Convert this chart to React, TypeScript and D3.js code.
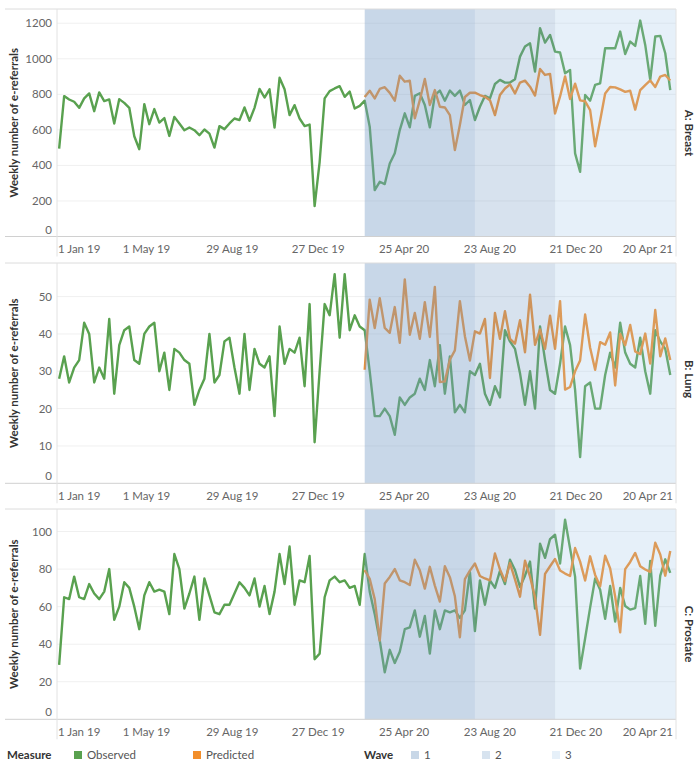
import React, { useEffect, useRef } from 'react';
import * as d3 from 'd3';

// ---- categories ----
const firstWeek = new Date(2018, 11, 30); // weekly series start (week beginning)
const predictedStartIndex = 61; // first week with a predicted value (1 Mar 2020)
const panelNames = ['A: Breast', 'B: Lung', 'C: Prostate'];
const measureNames = ['Observed', 'Predicted'];
const waveNames = ['1', '2', '3'];
const waveStarts = [new Date(2020, 2, 1), new Date(2020, 7, 2), new Date(2020, 10, 22)];
const waveEnd = new Date(2021, 4, 10);
const xTickDates = [
  new Date(2019, 0, 1), new Date(2019, 4, 1), new Date(2019, 7, 29), new Date(2019, 11, 27),
  new Date(2020, 3, 25), new Date(2020, 7, 23), new Date(2020, 11, 21), new Date(2021, 3, 20),
];
const xTickLabels = ['1 Jan 19', '1 May 19', '29 Aug 19', '27 Dec 19', '25 Apr 20', '23 Aug 20', '21 Dec 20', '20 Apr 21'];
const breastTicks = [0, 200, 400, 600, 800, 1000, 1200];
const lungTicks = [0, 10, 20, 30, 40, 50];
const prostateTicks = [0, 20, 40, 60, 80, 100];

// ---- series values ----
const breastObserved = [
  495, 790, 771, 758, 724, 777, 805, 705, 811, 762,
  771, 636, 773, 752, 724, 564, 491, 745, 632, 717,
  641, 666, 566, 673, 636, 598, 613, 598, 570, 602,
  579, 500, 621, 604, 636, 664, 655, 726, 651, 724,
  830, 782, 828, 613, 893, 828, 683, 739, 664, 621,
  630, 171, 419, 777, 818, 833, 846, 786, 815, 720,
  735, 764, 618, 261, 308, 295, 411, 468, 599, 693,
  614, 791, 806, 740, 614, 796, 821, 764, 821, 791,
  821, 740, 768, 655, 730, 791, 777, 858, 881, 866,
  866, 885, 1012, 1069, 1087, 928, 1172, 1091, 1134, 1040,
  1035, 918, 937, 468, 364, 796, 764, 853, 862, 1059,
  1059, 1059, 1153, 1027, 1097, 1072, 1215, 1078, 881, 1125,
  1129, 1031, 824,
];
const breastPredicted = [
  785, 820, 777, 830, 840, 808, 764, 905, 871, 877,
  665, 767, 886, 740, 824, 730, 726, 683, 486, 627,
  785, 809, 809, 796, 786, 767, 683, 796, 833, 856,
  805, 866, 877, 843, 793, 943, 909, 915, 692, 788,
  901, 774, 860, 766, 761, 711, 508, 653, 805, 841,
  839, 828, 814, 820, 714, 824, 852, 878, 841, 900,
  909, 878,
];
const lungObserved = [
  28, 34, 27, 31, 33, 43, 40, 27, 31, 28,
  44, 24, 37, 41, 42, 33, 32, 40, 42, 43,
  30, 35, 25, 36, 35, 33, 32, 21, 25, 28,
  40, 27, 29, 38, 39, 31, 24, 40, 25, 36,
  32, 31, 34, 18, 42, 32, 36, 35, 39, 26,
  48, 11, 30, 48, 45, 56, 39, 56, 41, 45,
  42, 41, 30, 18, 18, 20, 18, 13, 23, 21,
  23, 24, 28, 25, 33, 26, 37, 24, 34, 19,
  21, 19, 30, 29, 32, 24, 21, 26, 23, 41,
  38, 36, 29.5, 21, 30, 20, 42, 33, 25, 24,
  32, 42, 37, 25, 7, 26, 27, 20, 20, 29,
  35, 31, 43, 35, 32, 31, 39, 30, 24, 41,
  38, 36, 29,
];
const lungPredicted = [
  30.4, 49.2, 41.6, 49.6, 41.6, 40.3, 47.2, 37.6, 54.6, 39.8,
  45.6, 38.7, 48.5, 39.2, 52.6, 27.1, 27.3, 33.1, 35.6, 48.8,
  39.4, 32.9, 40.7, 40.1, 44, 28.2, 45.6, 38.7, 46.1, 38.7,
  37.4, 43.7, 35.1, 50.5, 37.1, 41.2, 36, 44.9, 36, 48.8,
  25.1, 25.8, 30, 32.9, 45.2, 36.3, 30.4, 37.8, 37.1, 40.4,
  26.2, 40, 37, 42.4, 35.3, 34.6, 40.1, 32.1, 46.4, 34,
  38.8, 33,
];
const prostateObserved = [
  29, 65, 64, 76, 65, 64, 72, 67, 64, 68,
  80, 53, 60, 73, 70, 60, 48, 66, 73, 68,
  69, 68, 56, 88, 80, 59, 67, 76, 53, 75,
  66, 57, 56, 61, 61, 67, 73, 70, 66, 75,
  60, 71, 56, 68, 88, 72, 92, 61, 74, 73,
  87, 32, 35, 65, 74, 76, 73, 74, 70, 71,
  61, 88, 68, 56, 42, 25, 37, 30, 36, 48,
  49, 58, 44, 55, 35, 58, 48, 58, 57, 58,
  54, 58, 78.5, 47, 74, 61, 74, 70, 79, 72,
  85, 79.5, 70.5, 76.5, 84, 59, 93.5, 86, 96, 98.3,
  83, 106.3, 91, 76, 27, 43, 59.5, 75, 69, 53.5,
  71, 52, 70, 60.3, 58.4, 59.2, 76.3, 50.8, 84.3, 49.8,
  76.5, 85.2, 78,
];
const prostatePredicted = [
  79.4, 74.8, 64, 41.9, 72.3, 75.8, 80, 74, 73, 71.5,
  85, 79.4, 69.6, 81.2, 71.2, 62.7, 81.5, 75.7, 65.5, 43.7,
  74.7, 79.2, 83, 76.3, 75, 74, 88.3, 79.8, 73.6, 83.2,
  74.5, 65.3, 84.5, 76, 65, 45, 77.4, 81.5, 85.4, 79.2,
  77.6, 76.3, 91.2, 84, 73.9, 86.8, 76.9, 70.8, 87.1, 80.3,
  65.4, 46.3, 80, 83.8, 88.6, 81.5, 79.8, 78.5, 94, 87.8,
  76.5, 89.6,
];

const FONT = "Lato, 'Open Sans', sans-serif";
const OBS_COLOR = '#59a14f';
const PRED_COLOR = '#f28e2b';
const WAVE_FILLS = ['#7ba0c8', '#7ba0c8', '#9cc4e8'];
const WAVE_OPAC = [0.42, 0.3, 0.25];
const WAVE_SWATCH = ['#c8d7e7', '#d7e3ef', '#e6f0f9'];

export default function App() {
  const ref = useRef<SVGSVGElement>(null);

  useEffect(() => {
    document.body.style.margin = '0';
    const svg = d3.select(ref.current);
    svg.selectAll('*').remove();

    const left = 57;
    const right = 676;
    const x = d3.scaleTime().domain([new Date(2018, 11, 27), new Date(2021, 4, 10)]).range([left, right]);
    const weekDate = (i: number) => d3.timeDay.offset(firstWeek, 7 * i);

    const panels = [
      { name: panelNames[0], obs: breastObserved, pred: breastPredicted, ticks: breastTicks, yMax: 1280, top: 9, bottom: 236.5, labelY: 133 },
      { name: panelNames[1], obs: lungObserved, pred: lungPredicted, ticks: lungTicks, yMax: 59, top: 263, bottom: 483.3, labelY: 379 },
      { name: panelNames[2], obs: prostateObserved, pred: prostatePredicted, ticks: prostateTicks, yMax: 112, top: 509, bottom: 719.3, labelY: 634 },
    ];

    panels.forEach((p) => {
      const y = d3.scaleLinear().domain([0, p.yMax]).range([p.bottom, p.top]);
      const g = svg.append('g');

      // gridlines
      g.selectAll('line.grid')
        .data(p.ticks.filter((t) => t > 0))
        .join('line')
        .attr('x1', left).attr('x2', right)
        .attr('y1', (d) => y(d)).attr('y2', (d) => y(d))
        .attr('stroke', '#f0f0f0').attr('stroke-width', 1);

      // lines
      const obsLine = d3.line<number>().x((_, i) => x(weekDate(i))).y((d) => y(d));
      const predLine = d3.line<number>().x((_, i) => x(weekDate(i + predictedStartIndex))).y((d) => y(d));
      g.append('path').attr('d', obsLine(p.obs)).attr('fill', 'none')
        .attr('stroke', OBS_COLOR).attr('stroke-width', 2.4).attr('stroke-linejoin', 'round');
      g.append('path').attr('d', predLine(p.pred)).attr('fill', 'none')
        .attr('stroke', PRED_COLOR).attr('stroke-width', 2.4).attr('stroke-linejoin', 'round');

      // wave bands (overlay)
      waveStarts.forEach((ws, k) => {
        const we = k < waveStarts.length - 1 ? waveStarts[k + 1] : waveEnd;
        g.append('rect')
          .attr('x', x(ws)).attr('y', p.top)
          .attr('width', Math.min(x(we), right) - x(ws)).attr('height', p.bottom - p.top)
          .attr('fill', WAVE_FILLS[k]).attr('fill-opacity', WAVE_OPAC[k]);
      });

      // frame lines
      g.append('line').attr('x1', 5).attr('x2', right).attr('y1', p.top).attr('y2', p.top)
        .attr('stroke', '#dcdcdc');
      g.append('line').attr('x1', 5).attr('x2', right).attr('y1', p.bottom).attr('y2', p.bottom)
        .attr('stroke', '#d0d0d0');
      g.append('line').attr('x1', left).attr('x2', left).attr('y1', p.top).attr('y2', p.bottom + 20)
        .attr('stroke', '#e2e2e2');
      g.append('line').attr('x1', right).attr('x2', right).attr('y1', p.top).attr('y2', p.bottom + 20)
        .attr('stroke', '#e2e2e2');

      // y tick labels
      g.selectAll('text.yt')
        .data(p.ticks)
        .join('text')
        .attr('x', 52)
        .attr('y', (d) => (d === 0 ? p.bottom - 7 : y(d)))
        .attr('dy', '0.35em')
        .attr('text-anchor', 'end')
        .attr('font-family', FONT).attr('font-size', 11.5).attr('fill', '#666')
        .text((d) => String(d));

      // x tick labels
      const xt = g.selectAll('text.xt')
        .data(xTickDates)
        .join('text')
        .attr('y', p.bottom + 12.5)
        .attr('dy', '0.35em')
        .attr('text-anchor', 'middle')
        .attr('font-family', FONT).attr('font-size', 11.5).attr('fill', '#666')
        .text((_, i) => xTickLabels[i]);
      xt.each(function (d) {
        const el = this as SVGTextElement;
        const w = el.getComputedTextLength();
        let cx = x(d);
        if (cx - w / 2 < left + 1) cx = left + 1 + w / 2;
        if (cx + w / 2 > right - 3) cx = right - 3 - w / 2;
        d3.select(el).attr('x', cx);
      });

      // y axis title
      g.append('text')
        .attr('transform', `translate(14,${(p.top + p.bottom) / 2}) rotate(-90)`)
        .attr('text-anchor', 'middle').attr('dy', '0.35em')
        .attr('font-family', FONT).attr('font-size', 11.5).attr('font-weight', 700).attr('fill', '#333')
        .text('Weekly number of e-referrals');

      // facet label
      g.append('text')
        .attr('transform', `translate(689,${p.labelY}) rotate(90)`)
        .attr('text-anchor', 'middle').attr('dy', '0.35em')
        .attr('font-family', FONT).attr('font-size', 11.5).attr('font-weight', 700).attr('fill', '#333')
        .text(p.name);
    });

    // legend
    const ly = 755;
    const lg = svg.append('g').attr('font-family', FONT).attr('font-size', 11.5);
    lg.append('text').attr('x', 7).attr('y', ly).attr('dy', '0.35em').attr('font-weight', 700).attr('fill', '#333').text('Measure');
    const measureX = [74, 193];
    const measureColors = [OBS_COLOR, PRED_COLOR];
    measureNames.forEach((m, i) => {
      lg.append('rect').attr('x', measureX[i]).attr('y', ly - 4).attr('width', 8).attr('height', 8).attr('fill', measureColors[i]);
      lg.append('text').attr('x', measureX[i] + 13).attr('y', ly).attr('dy', '0.35em').attr('fill', '#555').text(m);
    });
    lg.append('text').attr('x', 364).attr('y', ly).attr('dy', '0.35em').attr('font-weight', 700).attr('fill', '#333').text('Wave');
    const waveX = [411, 482, 552];
    waveNames.forEach((w, i) => {
      lg.append('rect').attr('x', waveX[i]).attr('y', ly - 4).attr('width', 8).attr('height', 8).attr('fill', WAVE_SWATCH[i]);
      lg.append('text').attr('x', waveX[i] + 13).attr('y', ly).attr('dy', '0.35em').attr('fill', '#555').text(w);
    });
  }, []);

  return (
    <div style={{ position: 'absolute', left: 0, top: 0 }}>
      <svg ref={ref} width={700} height={762} style={{ display: 'block', background: '#fff' }} />
    </div>
  );
}
